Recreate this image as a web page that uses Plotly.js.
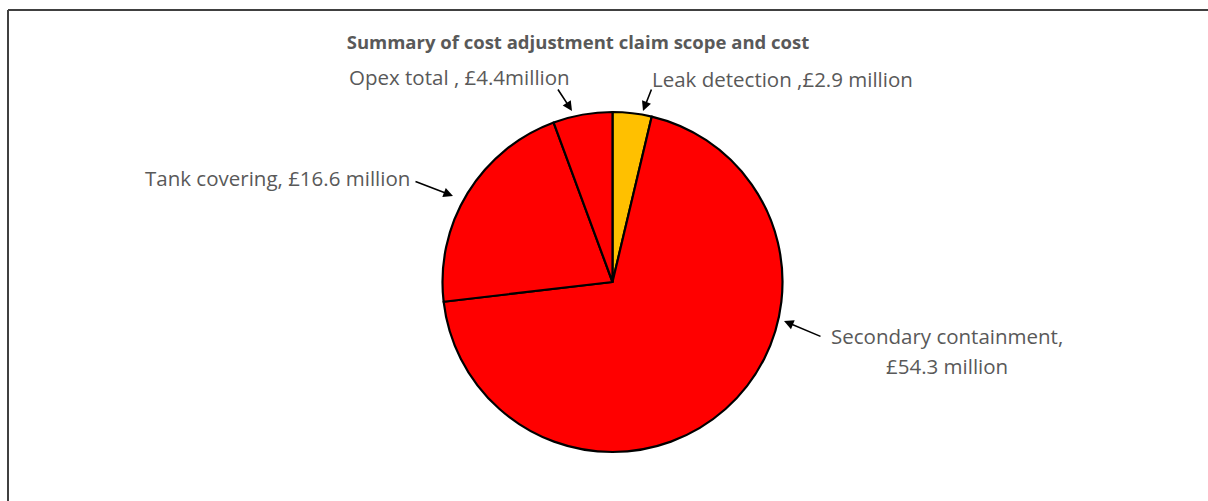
<!DOCTYPE html>
<html>
<head>
<meta charset="utf-8">
<script src="https://cdn.plot.ly/plotly-3.0.1.min.js"></script>
<style>html,body{margin:0;padding:0;background:#fff;}#chart{width:1208px;height:501px;}</style>
</head>
<body>
<div id="chart"></div>
<script>
// Data
const sliceLabels = ["Leak detection", "Secondary containment", "Tank covering", "Opex total"];
const sliceValues = [2.9, 54.3, 16.6, 4.4];
const sliceColors = ["#FFC000", "#FF0000", "#FF0000", "#FF0000"];
const labelLines = [
  ["Leak detection ,£2.9 million"],
  ["Secondary containment,", "£54.3 million"],
  ["Tank covering, £16.6 million"],
  ["Opex total , £4.4million"]
];
const chartTitle = "Summary of cost adjustment claim scope and cost";

const W = 1208, H = 501;
const px = x => x / W;
const py = y => 1 - y / H;

// Label placement (pixels): text anchor, line gap, arrow tail, arrow head
const labelPos = [
  {tx: 650, ty: 79, xa: "left",   gap: 0,  tail: [652, 88],  head: [643, 111]},
  {tx: 947, ty: 336, xa: "center", gap: 30, tail: [822, 337], head: [784, 321]},
  {tx: 143, ty: 178, xa: "left",   gap: 0,  tail: [414, 181], head: [453, 196]},
  {tx: 347, ty: 77,  xa: "left",   gap: 0,  tail: [557, 88],  head: [572, 111]}
];

const font = {family: "'Open Sans', sans-serif", size: 20.5, color: "#595959"};

const annotations = [];
labelLines.forEach((lines, i) => {
  const p = labelPos[i];
  lines.forEach((t, j) => {
    annotations.push({
      text: t, xref: "paper", yref: "paper", x: px(p.tx), y: py(p.ty + j * p.gap),
      xanchor: p.xa, yanchor: "middle", showarrow: false, font: font
    });
  });
  annotations.push({
    text: "", xref: "paper", yref: "paper", x: px(p.head[0]), y: py(p.head[1]),
    showarrow: true, arrowhead: 2, arrowsize: 1.2, arrowwidth: 1.6, arrowcolor: "#000",
    ax: p.tail[0] - p.head[0], ay: p.tail[1] - p.head[1], standoff: 0, startstandoff: 0
  });
});

const trace = {
  type: "pie",
  labels: sliceLabels,
  values: sliceValues,
  marker: {colors: sliceColors, line: {color: "#000", width: 2.2}},
  sort: false,
  direction: "clockwise",
  rotation: 0,
  textinfo: "none",
  hoverinfo: "label+value",
  showlegend: false,
  domain: {x: [px(442.5), px(782.5)], y: [py(452.5), py(111.5)]}
};

const layout = {
  width: W, height: H,
  margin: {l: 0, r: 0, t: 0, b: 0},
  paper_bgcolor: "#fff",
  showlegend: false,
  title: {
    text: "<b>" + chartTitle + "</b>",
    x: px(578), xanchor: "center", y: py(43), yanchor: "middle", yref: "container",
    font: {family: "'Open Sans', sans-serif", size: 18.5, color: "#595959"}
  },
  annotations: annotations,
  shapes: [
    {type: "line", xref: "paper", yref: "paper", x0: px(8), y0: py(10), x1: 1.01, y1: py(10), line: {color: "#404040", width: 2}},
    {type: "line", xref: "paper", yref: "paper", x0: px(8), y0: py(10), x1: px(8), y1: -0.01, line: {color: "#404040", width: 2}}
  ]
};

Plotly.newPlot("chart", [trace], layout, {displayModeBar: false, staticPlot: true});
</script>
</body>
</html>
